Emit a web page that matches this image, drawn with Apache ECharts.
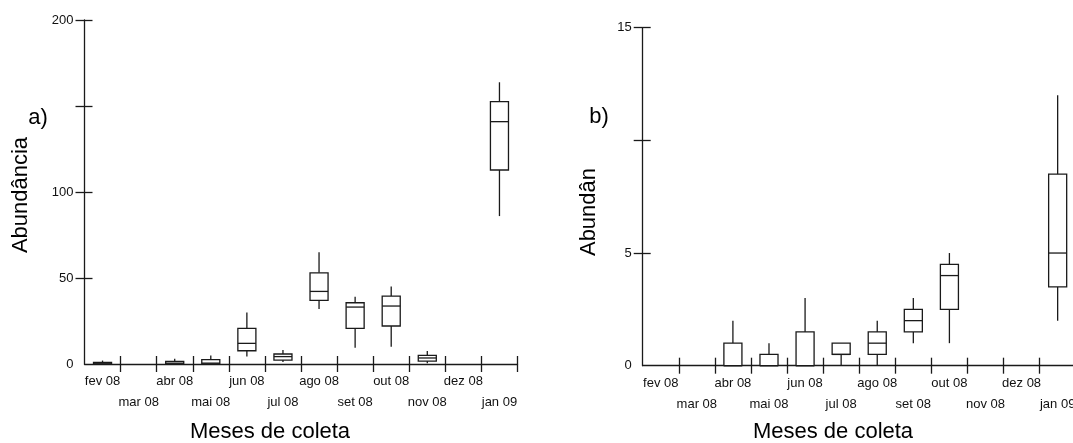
<!DOCTYPE html>
<html>
<head>
<meta charset="utf-8">
<script src="https://cdn.jsdelivr.net/npm/echarts@6/dist/echarts.min.js"></script>
<style>
  html, body { margin: 0; padding: 0; background: #fff; }
  #chart { width: 1073px; height: 443px; }
</style>
</head>
<body>
<div id="chart"></div>
<script>
// months (x categories)
const months = ['fev 08', 'mar 08', 'abr 08', 'mai 08', 'jun 08', 'jul 08',
  'ago 08', 'set 08', 'out 08', 'nov 08', 'dez 08', 'jan 09']

// panel a) - [min, q1, median, q3, max] split per stat, null = no sample
const aMin = [0, null, 0, 0, 4.3, 1.2, 32, 9.5, 10.1, 0.4, null, 86]
const aQ1  = [0, null, 0, 0, 7.7, 2.3, 37, 20.7, 22.1, 1.7, null, 112.8]
const aMed = [0.5, null, 0.5, 0.5, 12, 4.3, 42.2, 33.1, 33.7, 3.5, null, 140.9]
const aQ3  = [1, null, 1.5, 2.5, 20.7, 5.8, 53, 35.6, 39.5, 5, null, 152.5]
const aMax = [2, null, 3, 5, 30, 8.1, 65, 39.1, 45, 7.5, null, 163.8]

// panel b)
const bMin = [null, null, 0, 0, 0, 0, 0, 1, 1, null, null, 2]
const bQ1  = [null, null, 0, 0, 0, 0.5, 0.5, 1.5, 2.5, null, null, 3.5]
const bMed = [null, null, 0, 0, 0, 0.5, 1, 2, 4, null, null, 5]
const bQ3  = [null, null, 1, 0.5, 1.5, 1, 1.5, 2.5, 4.5, null, null, 8.5]
const bMax = [null, null, 2, 1, 3, 1, 2, 3, 5, null, null, 12]

// y ticks / labels
const aTicks = [50, 100, 150, 200]
const aLabels = [0, 50, 100, 200]
const bTicks = [5, 10, 15]
const bLabels = [0, 5, 15]

const INK = '#1a1a1a'
const FONT = "'Liberation Sans', Arial, sans-serif"

const toRows = (mn, q1, md, q3, mx) => months
  .map((_, i) => [i, mn[i], q1[i], md[i], q3[i], mx[i]])
  .filter(r => r[1] !== null)

// box with plain whiskers (no caps)
const renderBox = (params, api) => {
  const i = api.value(0)
  const pMin = api.coord([i, api.value(1)])
  const pQ1 = api.coord([i, api.value(2)])
  const pMed = api.coord([i, api.value(3)])
  const pQ3 = api.coord([i, api.value(4)])
  const pMax = api.coord([i, api.value(5)])
  const half = api.size([1, 0])[0] * 0.25
  const cx = pMed[0]
  const line = { stroke: INK, lineWidth: 1.3, fill: null }
  return {
    type: 'group',
    children: [
      { type: 'line', shape: { x1: cx, y1: pQ3[1], x2: cx, y2: pMax[1] }, style: line },
      { type: 'line', shape: { x1: cx, y1: pQ1[1], x2: cx, y2: pMin[1] }, style: line },
      { type: 'rect', shape: { x: cx - half, y: pQ3[1], width: half * 2, height: pQ1[1] - pQ3[1] },
        style: { stroke: INK, lineWidth: 1.3, fill: '#fff' } },
      { type: 'line', shape: { x1: cx - half, y1: pMed[1], x2: cx + half, y2: pMed[1] }, style: line }
    ]
  }
}

const xMain = (grid) => ({
  type: 'category', gridIndex: grid, data: months, position: 'bottom',
  axisLine: { lineStyle: { color: INK, width: 1.3 } },
  axisTick: { show: true, length: 8, interval: (idx) => idx !== 0, lineStyle: { color: INK, width: 1.3 } },
  axisLabel: {
    interval: 0, margin: 7, color: '#111', fontFamily: FONT, fontSize: 13, lineHeight: 21,
    formatter: (v, i) => (i % 2 ? '\n' + v : v)
  },
  splitLine: { show: false }
})
const xInner = (grid) => ({
  type: 'category', gridIndex: grid, data: months, position: 'bottom',
  axisLine: { show: false },
  axisTick: { show: true, inside: true, length: 8, interval: (idx) => idx !== 0, lineStyle: { color: INK, width: 1.3 } },
  axisLabel: { show: false },
  splitLine: { show: false }
})
const yMain = (grid, max, step, ticks, labels) => ({
  type: 'value', gridIndex: grid, min: 0, max, interval: step, position: 'left',
  axisLine: { show: true, lineStyle: { color: INK, width: 1.3 } },
  axisTick: { show: true, length: 9, customValues: ticks, lineStyle: { color: INK, width: 1.3 } },
  axisLabel: { margin: 11, color: '#111', fontFamily: FONT, fontSize: 13, customValues: labels },
  splitLine: { show: false }
})
const yInner = (grid, max, step, ticks) => ({
  type: 'value', gridIndex: grid, min: 0, max, interval: step, position: 'left', offset: 0,
  axisLine: { show: false },
  axisTick: { show: true, inside: true, length: 8, customValues: ticks, lineStyle: { color: INK, width: 1.3 } },
  axisLabel: { show: false },
  splitLine: { show: false }
})

const txt = (text, x, y, size, rot) => ({
  type: 'text', x, y, rotation: rot || 0,
  style: { text, fill: '#000', font: size + 'px ' + FONT, textAlign: 'center', textVerticalAlign: 'middle' }
})

const chart = echarts.init(document.getElementById('chart'), null, { renderer: 'canvas' })
chart.setOption({
  backgroundColor: '#fff',
  animation: false,
  grid: [
    { left: 84.5, top: 20, width: 433, height: 344, outerBoundsMode: 'none' },
    { left: 642.7, top: 27.7, width: 433, height: 338, outerBoundsMode: 'none' }
  ],
  xAxis: [xMain(0), xInner(0), xMain(1), xInner(1)],
  yAxis: [
    yMain(0, 200, 50, aTicks, aLabels), yInner(0, 200, 50, aTicks),
    yMain(1, 15, 5, bTicks, bLabels), yInner(1, 15, 5, bTicks)
  ],
  series: [
    { type: 'custom', xAxisIndex: 0, yAxisIndex: 0, renderItem: renderBox,
      encode: { x: 0, y: [1, 2, 3, 4, 5] }, data: toRows(aMin, aQ1, aMed, aQ3, aMax) },
    { type: 'custom', xAxisIndex: 2, yAxisIndex: 2, renderItem: renderBox,
      encode: { x: 0, y: [1, 2, 3, 4, 5] }, data: toRows(bMin, bQ1, bMed, bQ3, bMax) }
  ],
  graphic: [
    txt('Abundância', 21, 195, 22, Math.PI / 2),
    txt('a)', 38, 118, 22),
    txt('Meses de coleta', 270, 432, 22),
    txt('Abundân', 589, 212, 22, Math.PI / 2),
    txt('b)', 599, 117, 22),
    txt('Meses de coleta', 833, 432, 22)
  ]
})
</script>
</body>
</html>
